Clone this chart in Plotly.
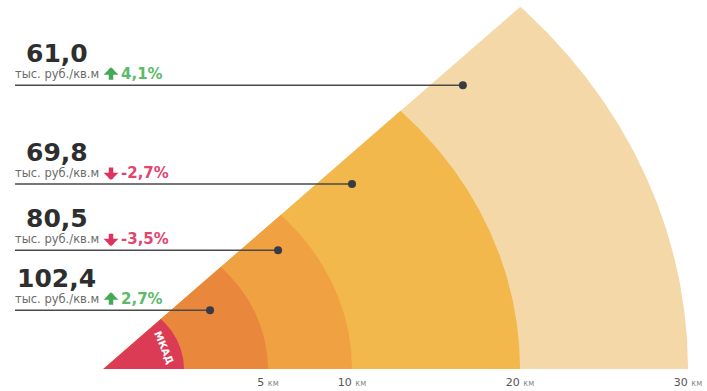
import numpy as np
import plotly.graph_objects as go

# ---- data ----
zone_km = [30, 20, 10, 5, 0]          # outer boundary of each zone (km from MKAD)
zone_colors = ["#F4D8A7", "#F2B84B", "#F0A243", "#E9883D", "#DC3B55"]
mkad_radius = 4.8                     # MKAD radius in km units (wedge centre offset)
wedge_deg = 44.5

prices = ["61,0", "69,8", "80,5", "102,4"]
change_labels = ["4,1%", "-2,7%", "-3,5%", "2,7%"]
change_values = [4.1, -2.7, -3.5, 2.7]
dot_km = [16.6, 10.0, 5.6, 1.55]
dot_level = [19.1, 12.45, 8.0, 3.95]
unit_label = "тыс. руб./кв.м"

tick_km = [5, 10, 20, 30]
tick_labels = ["5 км", "10 км", "20 км", "30 км"]

# ---- figure ----
W, H = 707, 391
fig = go.Figure()

cx = -mkad_radius
t = np.linspace(0, np.radians(wedge_deg), 200)
for km, col in zip(zone_km, zone_colors):
    R = km + mkad_radius
    xs = np.concatenate([[cx], cx + R * np.cos(t), [cx]])
    ys = np.concatenate([[0], R * np.sin(t), [0]])
    fig.add_trace(go.Scatter(x=xs, y=ys, fill="toself", fillcolor=col,
                             mode="lines", line=dict(width=0, color=col),
                             hoverinfo="skip", showlegend=False))

x_start = -10.06
for lvl, dx in zip(dot_level, dot_km):
    fig.add_trace(go.Scatter(x=[x_start, dx], y=[lvl, lvl], mode="lines",
                             line=dict(color="#4a4a4a", width=1.5),
                             hoverinfo="skip", showlegend=False))
fig.add_trace(go.Scatter(x=dot_km, y=dot_level, mode="markers",
                         marker=dict(color="#3a3a44", size=8),
                         hoverinfo="skip", showlegend=False))

ann = []
for p, cl, cv, lvl in zip(prices, change_labels, change_values, dot_level):
    up = cv > 0
    col = "#5DBA6A" if up else "#E2456E"
    acol = "#45A856" if up else "#E0325F"
    ann.append(dict(text=p, xref="paper", x=57 / W, xanchor="center",
                    yref="y", y=lvl, yshift=32, yanchor="middle", showarrow=False,
                    font=dict(family="DejaVu Sans", size=25, color="#2e2e2e", weight="bold")))
    ann.append(dict(text=unit_label, xref="paper", x=13 / W, xanchor="left",
                    yref="y", y=lvl, yshift=11, yanchor="middle", showarrow=False,
                    font=dict(family="DejaVu Sans", size=11.5, color="#6a6a6a")))
    # thick arrow drawn with an annotation arrow
    ann.append(dict(text="", xref="paper", x=111 / W, yref="y", y=lvl,
                    yshift=18 if up else 4, showarrow=True, ax=0, ay=14 if up else -14,
                    arrowhead=1, arrowwidth=4.5, arrowsize=0.55, arrowcolor=acol,
                    standoff=0, startstandoff=0))
    ann.append(dict(text=cl, xref="paper", x=119 / W, xanchor="left",
                    yref="y", y=lvl, yshift=11, yanchor="middle", showarrow=False,
                    font=dict(family="DejaVu Sans", size=15, color=col, weight="bold")))

# MKAD label along the inner arc
a = np.radians(22)
r_lab = mkad_radius - 0.9
ann.append(dict(text="МКАД", x=cx + r_lab * np.cos(a), y=r_lab * np.sin(a),
                xref="x", yref="y", showarrow=False, textangle=67,
                font=dict(family="DejaVu Sans", size=10, color="white", weight="bold")))

tick_text = [f"{s.split()[0]} <span style='font-size:8px;color:#888'>{s.split()[1]}</span>"
             for s in tick_labels]

fig.update_layout(
    width=W, height=H,
    margin=dict(l=0, r=0, t=0, b=21),
    paper_bgcolor="white", plot_bgcolor="white",
    annotations=ann,
    xaxis=dict(range=[-184 / 16.8, (W - 184) / 16.8], showgrid=False, zeroline=False,
               showline=False, tickvals=tick_km, ticktext=tick_text, ticks="",
               ticklabelstandoff=4,
               tickfont=dict(family="DejaVu Sans", size=11, color="#555"), fixedrange=True),
    yaxis=dict(range=[-1 / 14.85, 369 / 14.85], visible=False, fixedrange=True),
)

fig.write_html("out.html")
